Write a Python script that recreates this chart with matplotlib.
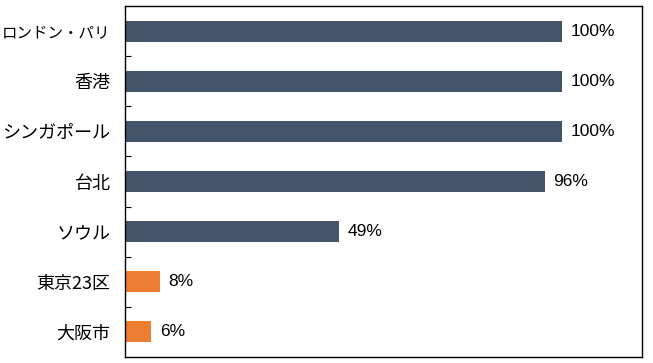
import numpy as np
import matplotlib.pyplot as plt

plt.rcParams['font.family'] = ['Noto Sans CJK JP', 'DejaVu Sans']

cities = ["ロンドン・パリ", "香港", "シンガポール", "台北", "ソウル", "東京23区", "大阪市"]
values = [100, 100, 100, 96, 49, 8, 6]
value_labels = ["100%", "100%", "100%", "96%", "49%", "8%", "6%"]
bar_colors = ["#44546A"] * 5 + ["#ED7D31"] * 2

fig = plt.figure(figsize=(6.53, 3.63), dpi=100)
ax = fig.add_axes([125 / 653, 6 / 363, 517 / 653, 351 / 363])

y = np.arange(len(cities))
ax.barh(y, values, height=0.42, color=bar_colors)
for yi, v, lab in zip(y, values, value_labels):
    ax.text(v + 2, yi, lab, va="center", ha="left", fontsize=12.5,
            family="Liberation Sans", color="#000000")

ax.set_xlim(0, 118.3)
ax.set_ylim(len(cities) - 0.5, -0.5)
ax.set_xticks([])
ax.set_yticks(y)
ax.set_yticklabels(cities, fontsize=13)
# the full-width dot makes the first label too wide, shrink it a bit
ax.get_yticklabels()[0].set_fontsize(11.2)
ax.tick_params(axis="y", which="major", length=0, pad=10.5)
ax.set_yticks(np.arange(0.5, len(cities) - 1, 1), minor=True)
ax.tick_params(axis="y", which="minor", direction="in", length=4, width=0.8)

for s in ax.spines.values():
    s.set_linewidth(1.0)
    s.set_color("#000000")

fig.savefig("out.png", dpi=100)
